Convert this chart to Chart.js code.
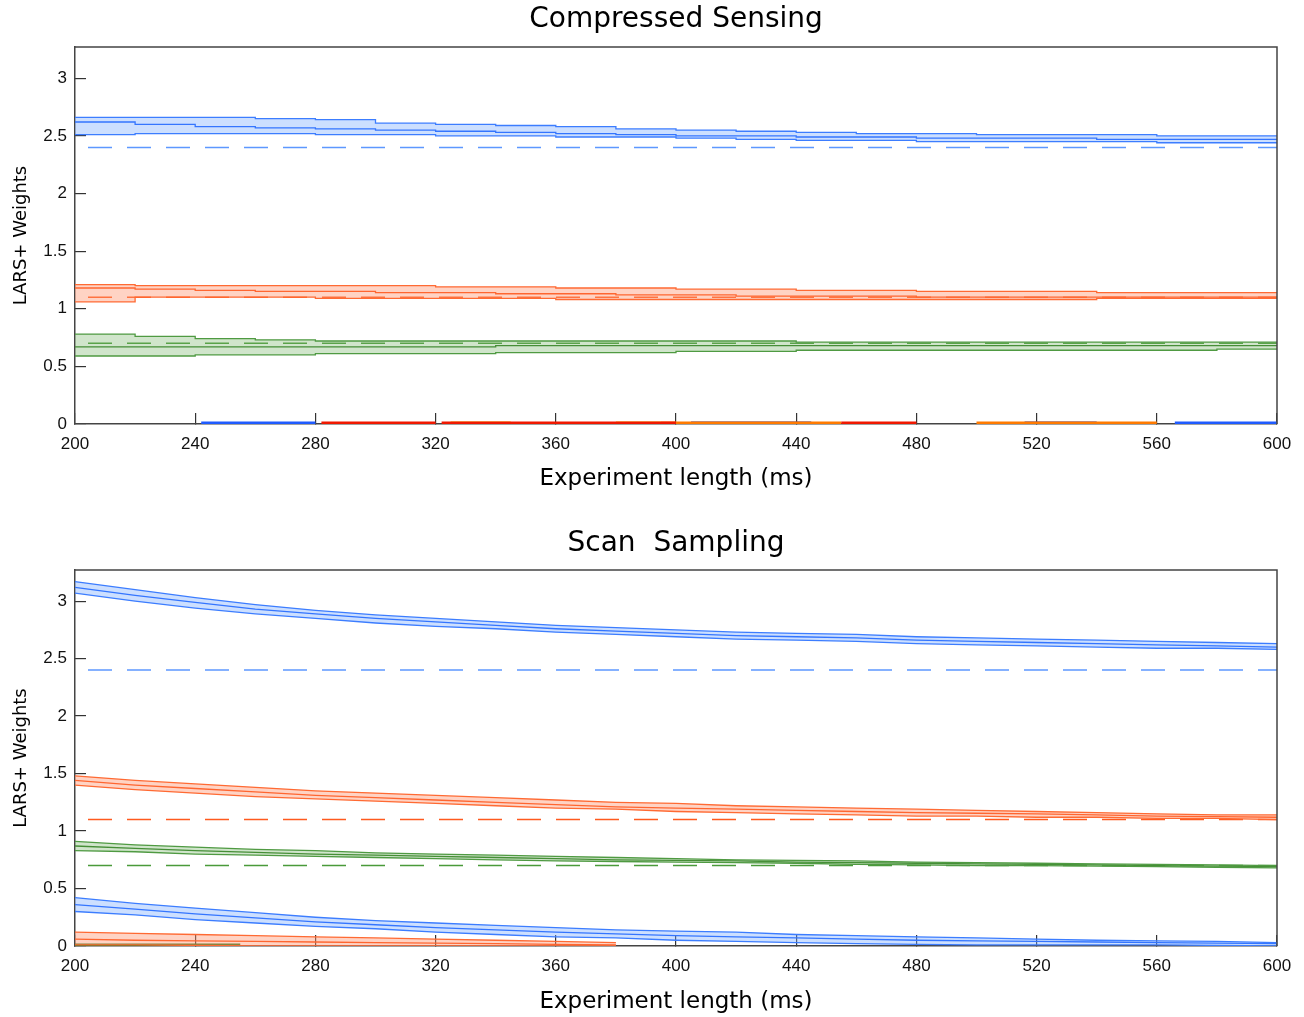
<!DOCTYPE html>
<html>
<head>
<meta charset="utf-8">
<script src="https://cdn.jsdelivr.net/npm/chart.js@4.4.1/dist/chart.umd.min.js"></script>
<style>
body { margin: 0; background: #fff; }
.box { position: relative; width: 1304px; }
</style>
</head>
<body>
<div class="box" style="height:508px"><canvas id="cs"></canvas></div>
<div class="box" style="height:509px"><canvas id="scan"></canvas></div>
<script>
// experiment lengths (ms)
var lengths = [200,220,240,260,280,300,320,340,360,380,400,420,440,460,480,500,520,540,560,580,600];
var xTicks = [200,240,280,320,360,400,440,480,520,560,600];
var yTicks = [0,0.5,1,1.5,2,2.5,3];
var refLevels = [2.4, 1.1, 0.7];

// Compressed Sensing
var csBlueUp  = [2.66,2.66,2.66,2.65,2.64,2.61,2.60,2.59,2.58,2.56,2.55,2.54,2.53,2.52,2.52,2.51,2.51,2.51,2.50,2.50,2.50];
var csBlueMid = [2.62,2.60,2.58,2.57,2.56,2.55,2.54,2.53,2.52,2.51,2.50,2.50,2.49,2.49,2.48,2.48,2.48,2.47,2.47,2.47,2.47];
var csBlueLo  = [2.51,2.52,2.52,2.52,2.51,2.51,2.50,2.50,2.49,2.49,2.48,2.47,2.46,2.46,2.45,2.45,2.45,2.45,2.44,2.44,2.44];
var csRedUp   = [1.21,1.20,1.20,1.20,1.20,1.20,1.19,1.19,1.18,1.18,1.17,1.17,1.16,1.16,1.15,1.15,1.15,1.14,1.14,1.14,1.14];
var csRedMid  = [1.18,1.17,1.16,1.15,1.15,1.14,1.14,1.13,1.13,1.12,1.12,1.11,1.11,1.11,1.10,1.10,1.10,1.10,1.10,1.10,1.10];
var csRedLo   = [1.06,1.10,1.10,1.10,1.09,1.09,1.09,1.09,1.08,1.08,1.08,1.08,1.08,1.08,1.08,1.08,1.08,1.09,1.09,1.09,1.09];
var csGreenUp = [0.78,0.76,0.74,0.73,0.72,0.72,0.72,0.72,0.72,0.72,0.72,0.72,0.71,0.71,0.71,0.71,0.71,0.71,0.71,0.71,0.71];
var csGreenMid= [0.67,0.67,0.67,0.67,0.67,0.67,0.67,0.68,0.68,0.68,0.68,0.68,0.68,0.68,0.68,0.68,0.68,0.68,0.68,0.68,0.68];
var csGreenLo = [0.59,0.59,0.60,0.60,0.61,0.61,0.61,0.62,0.62,0.62,0.63,0.63,0.64,0.64,0.64,0.64,0.64,0.64,0.64,0.65,0.65];
// ranges (ms) where the remaining weights sit on zero
var csZeroBlue   = [[242,280],[566,600]];
var csZeroRed    = [[282,320],[322,400],[455,480]];
var csZeroYellow = [[325,345],[380,395]];
var csZeroOrange = [[395,455],[500,540],[540,560]];
var csZeroNavy   = [[405,445],[516,540]];

// Scan Sampling
var ssBlueUp  = [3.17,3.10,3.03,2.97,2.92,2.88,2.85,2.82,2.79,2.77,2.75,2.73,2.72,2.71,2.69,2.68,2.67,2.66,2.65,2.64,2.63];
var ssBlueMid = [3.12,3.05,2.99,2.93,2.89,2.85,2.82,2.79,2.76,2.74,2.72,2.70,2.69,2.68,2.66,2.65,2.64,2.63,2.62,2.61,2.60];
var ssBlueLo  = [3.07,3.00,2.94,2.89,2.85,2.81,2.78,2.76,2.73,2.71,2.69,2.67,2.66,2.65,2.63,2.62,2.61,2.60,2.59,2.59,2.58];
var ssRedUp   = [1.48,1.44,1.41,1.38,1.35,1.33,1.31,1.29,1.27,1.25,1.24,1.22,1.21,1.20,1.19,1.18,1.17,1.16,1.15,1.14,1.14];
var ssRedMid  = [1.44,1.40,1.37,1.34,1.31,1.29,1.27,1.25,1.23,1.21,1.20,1.19,1.18,1.17,1.16,1.155,1.15,1.14,1.13,1.125,1.12];
var ssRedLo   = [1.40,1.36,1.33,1.30,1.28,1.26,1.24,1.22,1.20,1.19,1.17,1.16,1.15,1.14,1.13,1.13,1.12,1.12,1.11,1.11,1.10];
var ssGreenUp = [0.91,0.88,0.86,0.84,0.83,0.81,0.80,0.79,0.78,0.77,0.76,0.75,0.745,0.74,0.73,0.725,0.72,0.715,0.71,0.705,0.70];
var ssGreenMid= [0.87,0.85,0.83,0.815,0.80,0.79,0.78,0.77,0.76,0.75,0.745,0.74,0.73,0.725,0.72,0.715,0.71,0.705,0.70,0.695,0.69];
var ssGreenLo = [0.83,0.82,0.80,0.79,0.78,0.77,0.76,0.75,0.74,0.735,0.73,0.725,0.72,0.71,0.705,0.70,0.70,0.695,0.69,0.685,0.68];
var ssBlue2Up = [0.42,0.37,0.33,0.29,0.25,0.22,0.20,0.18,0.16,0.14,0.13,0.12,0.10,0.09,0.08,0.07,0.06,0.05,0.045,0.04,0.03];
var ssBlue2Mid= [0.36,0.32,0.28,0.245,0.21,0.185,0.16,0.14,0.12,0.105,0.09,0.08,0.07,0.06,0.05,0.045,0.04,0.035,0.03,0.025,0.02];
var ssBlue2Lo = [0.30,0.27,0.23,0.20,0.17,0.15,0.12,0.10,0.08,0.07,0.05,0.04,0.03,0.02,0.015,0.01,0.01,0.01,0.01,0.005,0.0];
var ssRed2Up  = [0.12,0.11,0.10,0.09,0.08,0.07,0.06,0.05,0.04,0.03,null,null,null,null,null,null,null,null,null,null,null];
var ssRed2Mid = [0.06,0.05,0.045,0.04,0.035,0.03,0.025,0.02,0.015,0.01,null,null,null,null,null,null,null,null,null,null,null];
var ssRed2Lo  = [0.01,0.01,0.005,0,0,0,0,0,0,0,null,null,null,null,null,null,null,null,null,null,null];
var ssZeroGreen = [[200,255]];

var BLUE = {line: '#3c7dff', mid: '#0a55ff', fill: 'rgba(120,170,255,0.38)', dash: '#5d98ff'};
var RED = {line: '#ff6a33', mid: '#ff4400', fill: 'rgba(255,150,115,0.42)', dash: '#ff5a1e'};
var GREEN = {line: '#4f9a42', mid: '#2b7a1c', fill: 'rgba(120,180,105,0.35)', dash: '#4a9a3a'};

function pts(xs, ys) {
    return xs.map(function (x, i) { return {x: x, y: ys[i]}; });
}

function band(up, mid, lo, c, stepped) {
    var common = {stepped: stepped, pointRadius: 0, borderWidth: 1.3, spanGaps: false};
    return [
        Object.assign({data: pts(lengths, up), borderColor: c.line, fill: false}, common),
        Object.assign({data: pts(lengths, lo), borderColor: c.line, fill: '-1', backgroundColor: c.fill}, common),
        Object.assign({data: pts(lengths, mid), borderColor: c.mid, fill: false}, common)
    ];
}

function refLine(level, c) {
    return {
        data: [{x: lengths[0], y: level}, {x: lengths[lengths.length - 1], y: level}],
        borderColor: c.dash, borderWidth: 1.5, borderDash: [24, 15], borderDashOffset: 26,
        pointRadius: 0, fill: false
    };
}

function zeroLine(ranges, color) {
    var data = [];
    ranges.forEach(function (r) {
        data.push({x: r[0], y: 0.01}, {x: r[1], y: 0.01}, {x: r[1], y: null});
    });
    return {data: data, borderColor: color, borderWidth: 2.5, pointRadius: 0, fill: false, spanGaps: false};
}

var frame = {
    id: 'frame',
    afterDraw: function (chart) {
        var a = chart.chartArea, ctx = chart.ctx;
        ctx.save();
        ctx.strokeStyle = '#444';
        ctx.lineWidth = 1.5;
        ctx.beginPath();
        ctx.moveTo(a.left, a.top);
        ctx.lineTo(a.right, a.top);
        ctx.lineTo(a.right, a.bottom);
        ctx.stroke();
        ctx.restore();
    }
};

function makeChart(id, title, datasets, titlePad, axisHeight, xTitlePad) {
    return new Chart(document.getElementById(id), {
        type: 'line',
        data: {datasets: datasets},
        plugins: [frame],
        options: {
            responsive: true,
            maintainAspectRatio: false,
            animation: false,
            layout: {padding: {left: 0, right: 27, top: 0, bottom: 0}},
            plugins: {
                legend: {display: false},
                tooltip: {enabled: false},
                title: {
                    display: true, text: title, color: '#000', fullSize: false,
                    font: {family: 'DejaVu Sans', size: 28, weight: 'normal'},
                    padding: titlePad
                }
            },
            scales: {
                x: {
                    type: 'linear', min: xTicks[0], max: xTicks[xTicks.length - 1],
                    afterBuildTicks: function (s) { s.ticks = xTicks.map(function (v) { return {value: v}; }); },
                    afterFit: function (s) { s.height = axisHeight; s.paddingLeft = 0; s.paddingRight = 0; },
                    grid: {drawOnChartArea: false, tickLength: -11, color: '#333', lineWidth: 1.2},
                    border: {color: '#444', width: 1.5},
                    ticks: {padding: 21, color: '#111', font: {family: 'Liberation Sans', size: 17}, maxRotation: 0, autoSkip: false},
                    title: {
                        display: true, text: 'Experiment length (ms)', color: '#000',
                        font: {family: 'DejaVu Sans', size: 23}, padding: {top: 0, bottom: xTitlePad}
                    }
                },
                y: {
                    min: 0, max: 3.27,
                    afterBuildTicks: function (s) { s.ticks = yTicks.map(function (v) { return {value: v}; }); },
                    afterFit: function (s) { s.width = 75; },
                    grid: {drawOnChartArea: false, tickLength: -11, color: '#333', lineWidth: 1.2},
                    border: {color: '#444', width: 1.5},
                    ticks: {padding: 19, color: '#111', font: {family: 'Liberation Sans', size: 17},
                        callback: function (v) { return String(v); }},
                    title: {
                        display: true, text: 'LARS+ Weights', color: '#000',
                        font: {family: 'DejaVu Sans', size: 18}, padding: {top: 11, bottom: 0}
                    }
                }
            }
        }
    });
}

var csSets = [].concat(
    band(csBlueUp, csBlueMid, csBlueLo, BLUE, 'before'),
    band(csRedUp, csRedMid, csRedLo, RED, 'before'),
    band(csGreenUp, csGreenMid, csGreenLo, GREEN, 'before'),
    [refLine(refLevels[0], BLUE), refLine(refLevels[1], RED), refLine(refLevels[2], GREEN),
     zeroLine(csZeroBlue, '#1f5bff'), zeroLine(csZeroRed, '#f01800'), zeroLine(csZeroYellow, '#f2c200'),
     zeroLine(csZeroOrange, '#ff7a00'), zeroLine(csZeroNavy, '#1530c0')]
);

var ssSets = [].concat(
    band(ssBlueUp, ssBlueMid, ssBlueLo, BLUE, false),
    band(ssRedUp, ssRedMid, ssRedLo, RED, false),
    band(ssGreenUp, ssGreenMid, ssGreenLo, GREEN, false),
    band(ssBlue2Up, ssBlue2Mid, ssBlue2Lo, BLUE, false),
    band(ssRed2Up, ssRed2Mid, ssRed2Lo, RED, false),
    [refLine(refLevels[0], BLUE), refLine(refLevels[1], RED), refLine(refLevels[2], GREEN),
     zeroLine(ssZeroGreen, '#2b7a1c')]
);

makeChart('cs', 'Compressed Sensing', csSets, {top: 3, bottom: 10.5}, 84, 15);
makeChart('scan', 'Scan  Sampling', ssSets, {top: 19, bottom: 9.5}, 71, 1);
</script>
</body>
</html>
